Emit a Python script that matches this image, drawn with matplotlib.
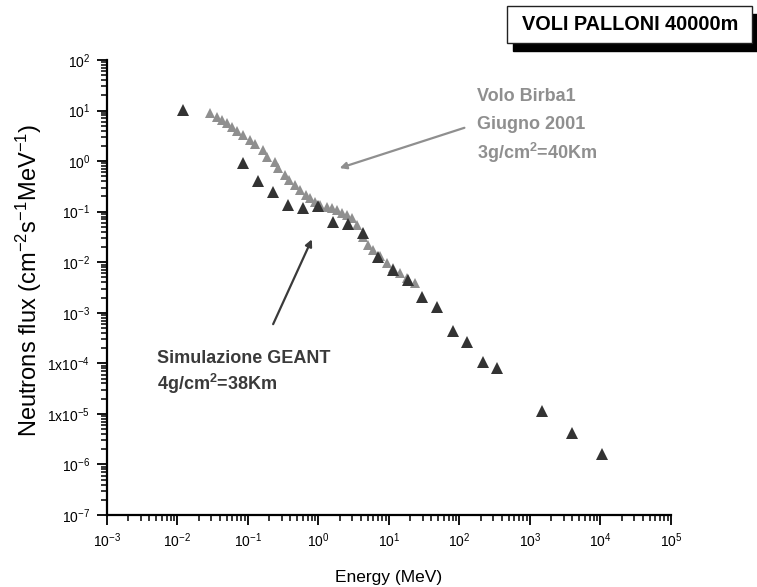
import numpy as np
import matplotlib
matplotlib.use("Agg")
from matplotlib import pyplot as plt
from matplotlib.patches import Rectangle
from matplotlib.ticker import LogLocator, FixedLocator, FixedFormatter, NullFormatter

plt.rcParams['font.family'] = ['Liberation Sans', 'DejaVu Sans']
plt.rcParams['mathtext.default'] = 'regular'

# Volo Birba1 (giugno 2001) - grey triangles
birba_energy = [0.0289, 0.0360, 0.0424, 0.0499, 0.0587, 0.0705, 0.0857, 0.107,
                0.126, 0.165, 0.184, 0.242, 0.269, 0.335, 0.385, 0.465, 0.547,
                0.665, 0.757, 0.891, 1.05, 1.31, 1.54, 1.81, 2.13, 2.51, 2.96,
                3.48, 4.32, 5.08, 5.98, 7.45, 9.27, 11.5, 14.3, 17.8, 23.4]
birba_flux = [9.10, 7.57, 6.52, 5.61, 4.68, 3.95, 3.30, 2.62, 2.16, 1.66, 1.23,
              0.977, 0.724, 0.533, 0.425, 0.339, 0.270, 0.215, 0.185, 0.158,
              0.136, 0.126, 0.117, 0.109, 0.0960, 0.0865, 0.0745, 0.0548,
              0.0322, 0.0221, 0.0176, 0.0130, 0.00959, 0.00764, 0.00610,
              0.00485, 0.00386]

# Simulazione GEANT - dark triangles
geant_energy = [0.012, 0.085, 0.139, 0.226, 0.369, 0.603, 0.984, 1.61, 2.62,
                4.28, 6.98, 11.4, 18.6, 29.4, 48.0, 80.9, 128, 215, 340, 1480,
                3940, 10500]
geant_flux = [10.3, 0.92, 0.406, 0.246, 0.136, 0.119, 0.130, 0.0628, 0.0574,
              0.0381, 0.0128, 0.00708, 0.00449, 0.00207, 0.00132, 0.000441,
              0.000267, 0.000108, 0.0000818, 0.0000116, 0.00000425, 0.00000163]

x_ticks = [1e-3, 1e-2, 1e-1, 1e0, 1e1, 1e2, 1e3, 1e4, 1e5]
x_labels = ['$10^{-3}$', '$10^{-2}$', '$10^{-1}$', '$10^{0}$', '$10^{1}$',
            '$10^{2}$', '$10^{3}$', '$10^{4}$', '$10^{5}$']
y_ticks = [1e2, 1e1, 1e0, 1e-1, 1e-2, 1e-3, 1e-4, 1e-5, 1e-6, 1e-7]
y_labels = ['$10^{2}$', '$10^{1}$', '$10^{0}$', '$10^{-1}$', '$10^{-2}$',
            '$10^{-3}$', '1x$10^{-4}$', '1x$10^{-5}$', '$10^{-6}$', '$10^{-7}$']

fig = plt.figure(figsize=(7.57, 5.87), dpi=100)
ax = fig.add_axes([0.1413, 0.1227, 0.7451, 0.7751])

ax.plot(birba_energy, birba_flux, '^', color='#8f8f8f', markersize=7.5,
        markeredgewidth=0, zorder=3)
ax.plot(geant_energy, geant_flux, '^', color='#333333', markersize=8,
        markeredgewidth=0, zorder=4)

ax.set_xscale('log')
ax.set_yscale('log')
ax.set_xlim(1e-3, 1e5)
ax.set_ylim(1e-7, 1e2)

ax.xaxis.set_major_locator(FixedLocator(x_ticks))
ax.xaxis.set_major_formatter(FixedFormatter(x_labels))
ax.yaxis.set_major_locator(FixedLocator(y_ticks))
ax.yaxis.set_major_formatter(FixedFormatter(y_labels))
ax.xaxis.set_minor_locator(LogLocator(base=10, subs=np.arange(2, 10), numticks=20))
ax.yaxis.set_minor_locator(LogLocator(base=10, subs=np.arange(2, 10), numticks=20))
ax.xaxis.set_minor_formatter(NullFormatter())
ax.yaxis.set_minor_formatter(NullFormatter())

ax.spines['top'].set_visible(False)
ax.spines['right'].set_visible(False)
ax.spines['left'].set_linewidth(1.6)
ax.spines['bottom'].set_linewidth(1.6)
ax.tick_params(which='major', direction='out', length=7, width=1.3,
               labelsize=10, pad=5)
ax.tick_params(which='minor', direction='out', length=4, width=1.1)

ax.set_xlabel('Energy (MeV)', fontsize=12.5, labelpad=14)
ax.set_ylabel('Neutrons flux (cm$^{-2}$s$^{-1}$MeV$^{-1}$)', fontsize=17)
ax.yaxis.set_label_coords(-0.112, 0.516)

# annotations
grey = '#8f8f8f'
dark = '#3a3a3a'
ax.annotate('', xy=(1.83, 0.70), xytext=(128, 4.74),
            arrowprops=dict(arrowstyle='-|>', color=grey, lw=1.6,
                            mutation_scale=10))
ax.text(177, 18.6, 'Volo Birba1', color=grey, fontsize=13, fontweight='bold',
        va='center', ha='left')
ax.text(177, 5.19, 'Giugno 2001', color=grey, fontsize=13, fontweight='bold',
        va='center', ha='left')
ax.text(177, 1.45, '3g/cm$^2$=40Km', color=grey, fontsize=13,
        fontweight='bold', va='center', ha='left')

ax.annotate('', xy=(0.836, 0.0318), xytext=(0.219, 5.3e-4),
            arrowprops=dict(arrowstyle='-|>', color=dark, lw=1.6,
                            mutation_scale=10))
ax.text(5.12e-3, 1.22e-4, 'Simulazione GEANT', color=dark, fontsize=13,
        fontweight='bold', va='center', ha='left')
ax.text(5.12e-3, 3.9e-5, '4g/cm$^2$=38Km', color=dark, fontsize=13,
        fontweight='bold', va='center', ha='left')

# title box with drop shadow
fig.patches.append(Rectangle((513 / 757, 1 - 51 / 587), 250 / 757, 37 / 587,
                             transform=fig.transFigure, facecolor='black',
                             edgecolor='black', zorder=1))
fig.patches.append(Rectangle((507 / 757, 1 - 43 / 587), 245 / 757, 37 / 587,
                             transform=fig.transFigure, facecolor='white',
                             edgecolor='#222222', lw=1.0, zorder=2))
fig.text(630 / 757, 1 - 25 / 587, 'VOLI PALLONI 40000m', fontsize=14.3,
         fontweight='bold', ha='center', va='center', zorder=3)

fig.savefig('out.png', dpi=100)
